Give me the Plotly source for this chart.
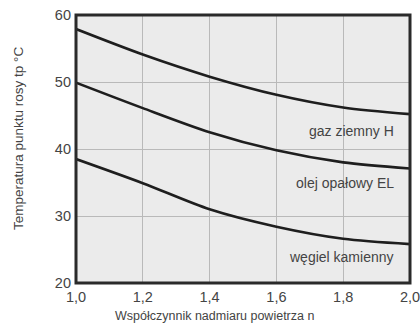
import plotly.graph_objects as go

n_values = [1.0, 1.2, 1.4, 1.6, 1.8, 2.0]
gaz_ziemny = [57.9, 54.1, 50.8, 48.1, 46.2, 45.2]
olej_opalowy = [49.9, 46.1, 42.5, 39.8, 38.0, 37.1]
wegiel = [38.5, 34.9, 31.0, 28.4, 26.6, 25.8]

series_names = ["gaz ziemny H", "olej opałowy EL", "węgiel kamienny"]
label_y = [42.7, 34.9, 23.9]

x_ticks = [1.0, 1.2, 1.4, 1.6, 1.8, 2.0]
x_tick_text = ["1,0", "1,2", "1,4", "1,6", "1,8", "2,0"]
y_ticks = [20, 30, 40, 50, 60]

FONT = "Liberation Sans, Arial, sans-serif"
TXT = "#444444"

W, H = 428, 325
L, R, T, B = 76, 18, 15, 42
PW, PH = W - L - R, H - T - B

fig = go.Figure()
for ys in [gaz_ziemny, olej_opalowy, wegiel]:
    fig.add_trace(go.Scatter(x=n_values, y=ys, mode="lines",
                             line=dict(color="#1e1e1e", width=2.6, shape="spline", smoothing=0.8),
                             showlegend=False, hoverinfo="skip"))

for name, ly in zip(series_names, label_y):
    fig.add_annotation(x=1.958, y=ly, xref="x", yref="y", text=name, showarrow=False,
                       xanchor="right", yanchor="middle",
                       font=dict(family=FONT, size=14, color=TXT))

fig.add_annotation(xref="paper", yref="paper",
                   x=(113 - L) / PW, y=-(316 - (H - B)) / PH,
                   xanchor="left", yanchor="middle",
                   text="Współczynnik nadmiaru powietrza n",
                   showarrow=False, font=dict(family=FONT, size=12.5, color=TXT))

fig.add_annotation(xref="paper", yref="paper",
                   x=-(L - 18) / PW, y=(H - B - 139) / PH,
                   xanchor="center", yanchor="middle", textangle=-90,
                   text="Temperatura punktu rosy tp °C",
                   showarrow=False, font=dict(family=FONT, size=13.5, color=TXT))

fig.add_shape(type="rect", xref="paper", yref="paper", x0=0, x1=1, y0=0, y1=1,
              line=dict(color="#2a2a2a", width=3), layer="above")

fig.update_layout(
    width=W, height=H,
    margin=dict(l=L, r=R, t=T, b=B, autoexpand=False),
    paper_bgcolor="white",
    plot_bgcolor="#ebebeb",
    font=dict(family=FONT, size=14, color=TXT),
    xaxis=dict(range=[1.0, 2.0], tickvals=x_ticks, ticktext=x_tick_text,
               showgrid=True, gridcolor="#b9b9b9", gridwidth=1,
               showline=False, ticks="", zeroline=False, automargin=False,
               ticklabelstandoff=3,
               tickfont=dict(size=14.5, color=TXT)),
    yaxis=dict(range=[20, 60], tickvals=y_ticks,
               showgrid=True, gridcolor="#b9b9b9", gridwidth=1,
               showline=False, ticks="", zeroline=False, automargin=False,
               ticklabelstandoff=4,
               tickfont=dict(size=14.5, color=TXT)),
)

fig.write_html("out.html",
               config={"displayModeBar": False, "staticPlot": True},
               post_script="document.body.style.margin='0';document.body.style.overflow='hidden';")
